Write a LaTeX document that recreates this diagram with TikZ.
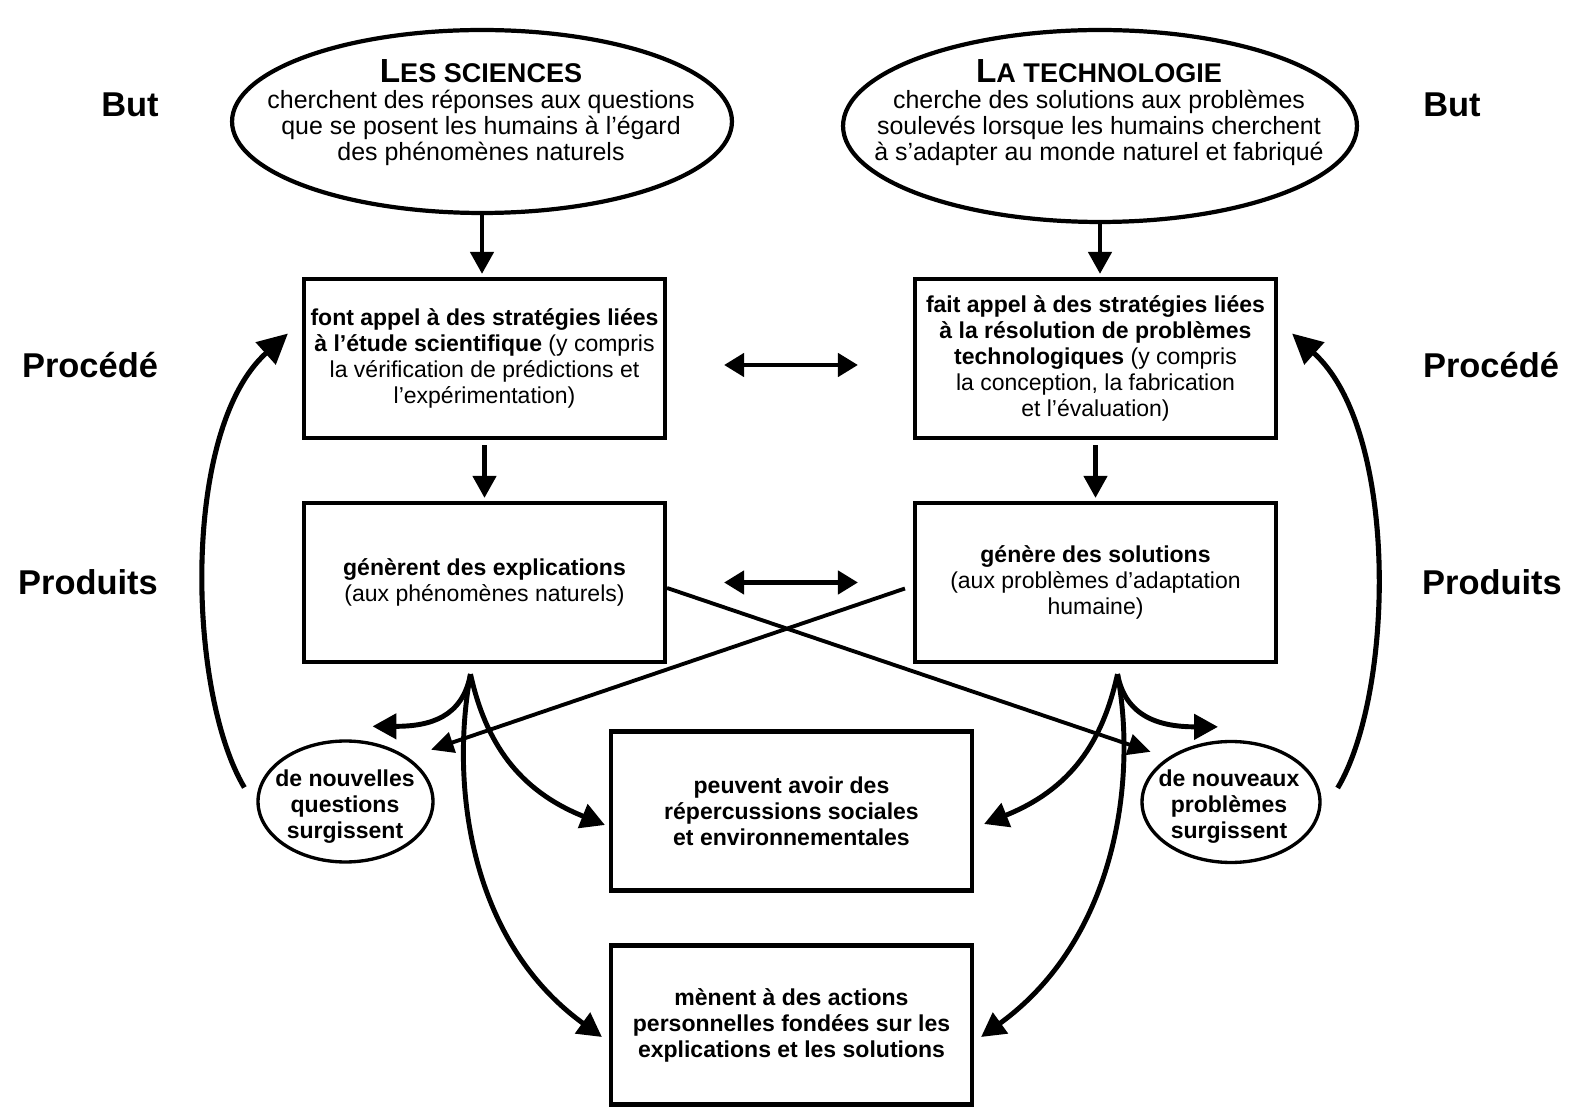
\documentclass[tikz,border=0pt]{standalone}
\usepackage{fontspec}
\setmainfont{Liberation Sans}
\usetikzlibrary{shapes.geometric,arrows.meta}

\begin{document}
\begin{tikzpicture}[x=0.02cm, y=0.02cm,
    box/.style={draw, line width=2.4pt, minimum width=7.22cm, minimum height=3.18cm, align=center, inner sep=0pt, font=\fontsize{13.1}{14.8}\selectfont},
    goal/.style={draw, ellipse, line width=2.4pt, inner sep=0pt},
    goaltext/.style={align=center, inner sep=0pt, font=\fontsize{14.2}{14.8}\selectfont},
    newitem/.style={draw, ellipse, line width=1.9pt, minimum width=3.5cm, minimum height=2.42cm, inner sep=0pt},
    newtext/.style={align=center, inner sep=0pt, font=\bfseries\fontsize{13.1}{14.8}\selectfont},
    side/.style={font=\bfseries\fontsize{19.6}{20}\selectfont},
    flow/.style={line width=2.6pt, -{Triangle[length=0.44cm, width=0.46cm]}},
    link/.style={line width=2.6pt, {Triangle[length=0.4cm, width=0.46cm]}-{Triangle[length=0.4cm, width=0.46cm]}},
    crossline/.style={line width=2.2pt, -{Triangle[length=0.45cm, width=0.42cm]}},
    fan/.style={line width=2.8pt, -{Triangle[length=0.48cm, width=0.5cm]}},
    feedback/.style={line width=2.9pt, -{Triangle[length=0.6cm, width=0.58cm]}}]

        \useasboundingbox (0,0) rectangle (1573,1110);

        \node [side] (butL) at (130,1005) {But};
        \node [side] (butR) at (1452,1005) {But};
        \node [side] (procL) at (90,745) {Procédé};
        \node [side] (procR) at (1491,745) {Procédé};
        \node [side] (prodL) at (88,528) {Produits};
        \node [side] (prodR) at (1492,528) {Produits};

        \node [goal, minimum width=10.0cm, minimum height=3.66cm] (sci) at (482,988.5) {};
        \node [goaltext] (scitext) at (481,997)
        {
          \textbf{{\fontsize{19}{19}\selectfont L}\fontsize{15.4}{14.8}\selectfont ES SCIENCES}\\
          cherchent des réponses aux questions\\
          que se posent les humains à l’égard\\
          des phénomènes naturels
        };
        \node [goal, minimum width=10.28cm, minimum height=3.84cm] (tech) at (1100,984) {};
        \node [goaltext] (techtext) at (1099,997)
        {
          \textbf{{\fontsize{19}{19}\selectfont L}\fontsize{15.4}{14.8}\selectfont A TECHNOLOGIE}\\
          cherche des solutions aux problèmes\\
          soulevés lorsque les humains cherchent\\
          à s’adapter au monde naturel et fabriqué
        };

        \node [box] (sciproc) at (484.5,751.5)
        {
          \textbf{font appel à des stratégies liées}\\
          \textbf{à l’étude scientifique} (y compris\\
          la vérification de prédictions et\\
          l’expérimentation)
        };
        \node [box] (techproc) at (1095.5,751.5)
        {
          \textbf{fait appel à des stratégies liées}\\
          \textbf{à la résolution de problèmes}\\
          \textbf{technologiques} (y compris\\
          la conception, la fabrication\\
          et l’évaluation)
        };
        \node [box] (sciprod) at (484.5,527.5)
        {
          \textbf{génèrent des explications}\\
          (aux phénomènes naturels)
        };
        \node [box] (techprod) at (1095.5,527.5)
        {
          \textbf{génère des solutions}\\
          (aux problèmes d’adaptation\\
          humaine)
        };
        \node [box, font=\bfseries\fontsize{13.1}{14.8}\selectfont] (impact) at (791.5,299)
        {
          peuvent avoir des\\
          répercussions sociales\\
          et environnementales
        };
        \node [box, font=\bfseries\fontsize{13.1}{14.8}\selectfont] (actions) at (791.5,85)
        {
          mènent à des actions\\
          personnelles fondées sur les\\
          explications et les solutions
        };

        \node [newitem] (questions) at (345.5,308.5) {};
        \node [newtext] (questionstext) at (345,303) {de nouvelles\\ questions\\ surgissent};
        \node [newitem, minimum width=3.56cm] (problems) at (1231,308) {};
        \node [newtext] (problemstext) at (1229,303) {de nouveaux\\ problèmes\\ surgissent};

        \draw [flow, shorten >=0.06cm] (sci.south) -- (sci.south |- sciproc.north);
        \draw [flow, shorten >=0.06cm] (tech.south) -- (tech.south |- techproc.north);
        \draw [flow, shorten <=0.1cm, shorten >=0.06cm] (sciproc) -- (sciprod);
        \draw [flow, shorten <=0.1cm, shorten >=0.06cm] (techproc) -- (techprod);

        \draw [link, shorten <=1.14cm, shorten >=1.1cm] ([yshift=-0.13cm]sciproc.east) -- ([yshift=-0.13cm]techproc.west);
        \draw [link, shorten <=1.14cm, shorten >=1.1cm] (sciprod) -- (techprod);

        \draw [crossline, shorten >=0.36cm] ([yshift=-0.11cm]sciprod.east) -- (problems.145);
        \draw [crossline, shorten >=0.48cm] ([shift={(-8,-6)}]techprod.west) -- (questions.35);

        \coordinate (sciroot) at ([shift={(-14,-10)}]sciprod.south);
        \coordinate (techroot) at ([shift={(22,-10)}]techprod.south);

        \draw [fan] (sciroot) .. controls +(-8,-43) and +(58,0) .. ([shift={(27,13)}]questions.north);
        \draw [fan] (sciroot) .. controls +(15,-68) and +(-87,35) .. ([shift={(-4,-14)}]impact.west);
        \draw [fan] (sciroot) .. controls +(-20,-108) and +(-134,97) .. ([shift={(-7,-12)}]actions.west);

        \draw [fan] (techroot) .. controls +(8,-43) and +(-58,0) .. ([shift={(-13,13)}]problems.north);
        \draw [fan] (techroot) .. controls +(-15,-68) and +(87,35) .. ([shift={(10,-13)}]impact.east);
        \draw [fan] (techroot) .. controls +(20,-108) and +(134,97) .. ([shift={(7,-12)}]actions.east);

        \draw [feedback] ([shift={(-12,14)}]questions.west) .. controls +(-57,96) and +(-107,-96) .. ([shift={(-14,25)}]sciproc.west);
        \draw [feedback] ([shift={(16,14)}]problems.east) .. controls +(57,96) and +(107,-96) .. ([shift={(14,25)}]techproc.east);
      \end{tikzpicture}
\end{document}
